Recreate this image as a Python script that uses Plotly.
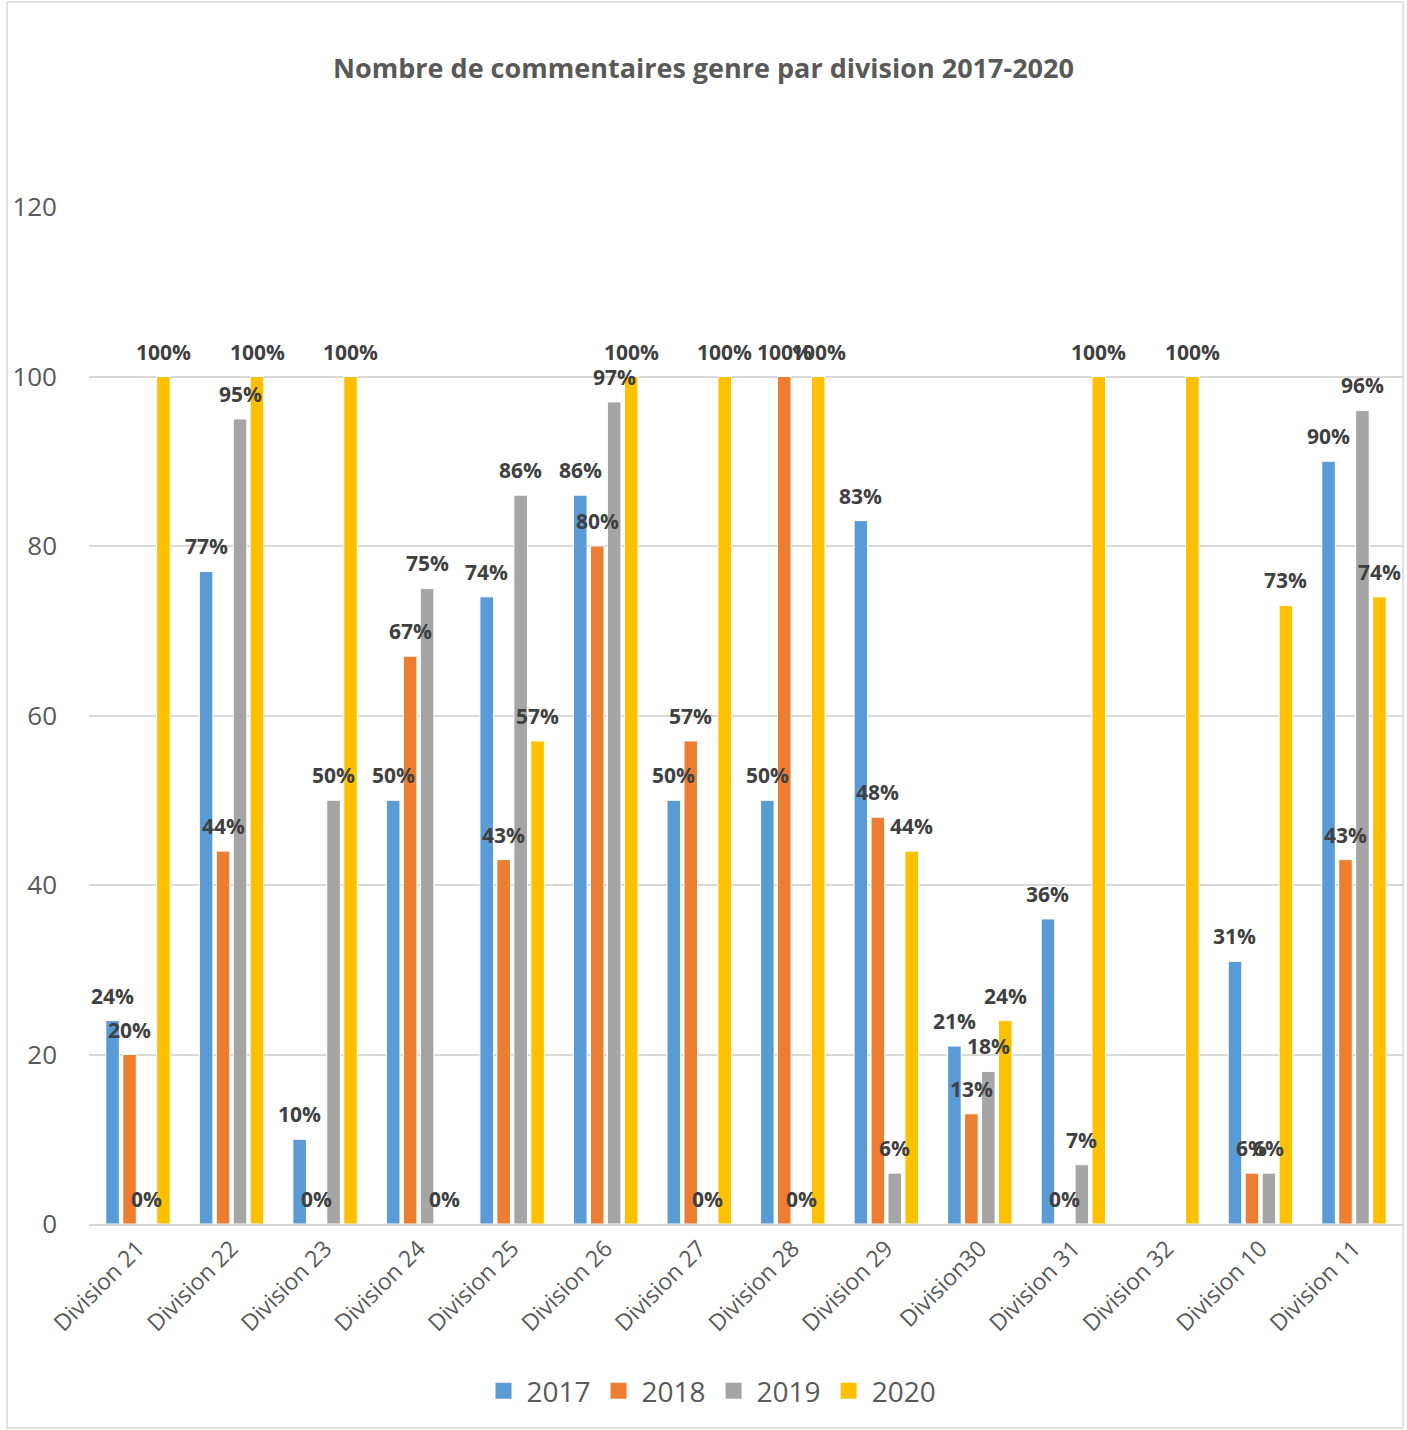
import plotly.graph_objects as go

categories = ["Division 21", "Division 22", "Division 23", "Division 24", "Division 25",
              "Division 26", "Division 27", "Division 28", "Division 29", "Division30",
              "Division 31", "Division 32", "Division 10", "Division 11"]
years = ["2017", "2018", "2019", "2020"]
v2017 = [24, 77, 10, 50, 74, 86, 50, 50, 83, 21, 36, None, 31, 90]
v2018 = [20, 44, 0, 67, 43, 80, 57, 100, 48, 13, 0, None, 6, 43]
v2019 = [0, 95, 50, 75, 86, 97, 0, 0, 6, 18, 7, None, 6, 96]
v2020 = [100, 100, 100, 0, 57, 100, 100, 100, 44, 24, 100, 100, 73, 74]
series = [v2017, v2018, v2019, v2020]
colors = ["#5B9BD5", "#ED7D31", "#A5A5A5", "#FFC000"]
y_ticks = [0, 20, 40, 60, 80, 100, 120]

FONT = "Open Sans"

W, H = 1407, 1430
L, R, T, B = 89, 4, 207, 206
pw, ph = W - L - R, H - T - B
BARGAP = 0.275

fig = go.Figure()
for name, vals, col in zip(years, series, colors):
    fig.add_trace(go.Bar(
        name=name, x=categories, y=vals, showlegend=False,
        marker=dict(color=col, line=dict(color="white", width=1)),
        hoverinfo="x+y",
    ))
# legend entries with larger square swatches
for name, col in zip(years, colors):
    fig.add_trace(go.Scatter(
        name=name, x=[None], y=[None], mode="markers",
        marker=dict(symbol="square", size=16, color=col),
    ))

# data labels as annotations (drawn above every bar)
slot = pw / len(categories) * (1 - BARGAP) / len(series)
annotations = []
for i, vals in enumerate(series):
    off = (i - (len(series) - 1) / 2) * slot
    for cat, v in zip(categories, vals):
        if v is None:
            continue
        annotations.append(dict(
            x=cat, y=v, xref="x", yref="y", text=f"<b>{v}%</b>", showarrow=False,
            xshift=off, yshift=25, yanchor="middle", xanchor="center",
            font=dict(family=FONT, size=21, color="#404040"),
        ))


def px(x):
    return (x - L) / pw


def py(y):
    return (H - B - y) / ph


fig.update_layout(
    width=W, height=H,
    margin=dict(l=L, r=R, t=T, b=B),
    paper_bgcolor="white", plot_bgcolor="white",
    barmode="group", bargap=BARGAP, bargroupgap=0.2,
    title=dict(text="<b>Nombre de commentaires genre par division 2017-2020</b>",
               x=0.5, xanchor="center", y=1 - 69 / H, yanchor="middle",
               font=dict(family=FONT, size=27, color="#595959")),
    font=dict(family=FONT, color="#595959"),
    legend=dict(orientation="h", x=px(711), xanchor="center", y=py(1391), yanchor="middle",
                font=dict(family=FONT, size=28, color="#595959"),
                itemsizing="trace", traceorder="normal", itemwidth=36),
    xaxis=dict(type="category", tickangle=-45, showgrid=False,
               tickfont=dict(family=FONT, size=23, color="#595959"),
               showline=True, linecolor="#D9D9D9", linewidth=2, ticks=""),
    yaxis=dict(range=[0, 120], tickvals=y_ticks, showgrid=True, gridcolor="#D9D9D9",
               gridwidth=1.5, zeroline=False, showline=False,
               tickfont=dict(family=FONT, size=26, color="#595959"),
               ticklabelstandoff=31),
    annotations=annotations,
    shapes=[dict(type="rect", xref="paper", yref="paper",
                 x0=px(7), x1=px(1403), y0=py(1428), y1=py(2),
                 line=dict(color="#D9D9D9", width=1.5), fillcolor="rgba(0,0,0,0)",
                 layer="below")],
)

fig.write_html("out.html")
